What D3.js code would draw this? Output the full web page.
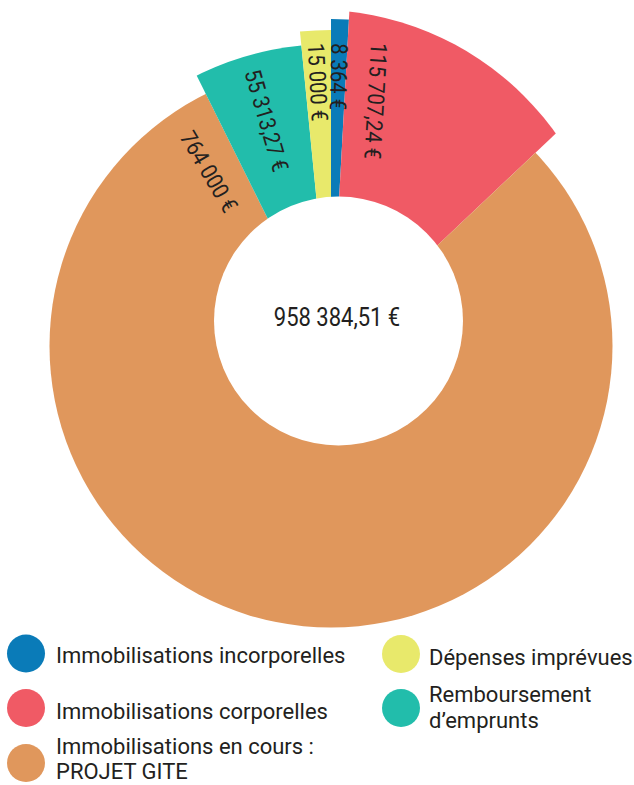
<!DOCTYPE html>
<html>
<head>
<meta charset="utf-8">
<script src="https://cdn.jsdelivr.net/npm/d3@7"></script>
<style>
  html, body { margin: 0; padding: 0; background: #fff; }
  text { font-family: Roboto, "Noto Sans", sans-serif; fill: #231f20; }
</style>
</head>
<body>
<div id="chart"></div>
<script>
// ---- data ----
const categories = [
  "Immobilisations incorporelles",
  "Immobilisations corporelles",
  "Immobilisations en cours : PROJET GITE",
  "Remboursement d’emprunts",
  "Dépenses imprévues"
];
const amounts = [8364, 115707.24, 764000, 55313.27, 15000];
const legendLines = [
  ["Immobilisations incorporelles"],
  ["Immobilisations corporelles"],
  ["Immobilisations en cours :", "PROJET GITE"],
  ["Remboursement", "d’emprunts"],
  ["Dépenses imprévues"]
];
const colors = ["#0a7bb8", "#f05a65", "#e0975c", "#22bdab", "#e8e96b"];

// ---- layout / style ----
const width = 634, height = 785;
const apex = { x: 331, y: 346 };           // common point of the wedges
const hole = { x: 338.5, y: 321, r: 124.5 };
const squeeze = 0.88;                      // narrow type for the numbers
// outer edge of each wedge: circle radius, plus its centre offset from apex
const outer = [
  { r: 327, dx: 0, dy: 0 },
  { r: 295, dx: -15.6, dy: -41.5 },
  { r: 281.5, dx: 0, dy: 0 },
  { r: 302, dx: 0, dy: 0 },
  { r: 316, dx: 0, dy: 0 }
];
// value label: start point (polar from apex, degrees clockwise from top) and direction
const labelPos = [
  { r: 303, a: 1.6, rot: 1.6 },
  { r: 306.8, a: 9.0, rot: 3.3 },
  { r: 257.7, a: -34.2, rot: -30.4 },
  { r: 287, a: -16.0, rot: -16.2 },
  { r: 303.4, a: -2.9, rot: -3 }
];
const legendPos = [
  { cx: 26, cy: 653.5, tx: 56, ty: [663] },
  { cx: 26, cy: 708, tx: 56, ty: [719] },
  { cx: 26, cy: 763, tx: 56, ty: [754, 779] },
  { cx: 401, cy: 708, tx: 429, ty: [702, 728] },
  { cx: 401, cy: 654, tx: 429, ty: [665] }
];

const fr = d3.formatLocale({ decimal: ",", thousands: " ", grouping: [3], currency: ["", " €"] });
const fmt = v => fr.format(",.2~f")(v) + " €";

const svg = d3.select("#chart").append("svg")
    .attr("width", width)
    .attr("height", height);

const pie = d3.pie().sort(null).value(d => d)(amounts);
const arc = d3.arc().innerRadius(0).outerRadius(420);
const rad = a => a * Math.PI / 180;

// clip circles for the outer edges
const defs = svg.append("defs");
defs.selectAll("clipPath")
    .data(outer)
    .join("clipPath")
      .attr("id", (d, i) => "edge" + i)
    .append("circle")
      .attr("cx", d => d.dx)
      .attr("cy", d => d.dy)
      .attr("r", d => d.r);

const g = svg.append("g")
    .attr("transform", `translate(${apex.x},${apex.y})`);

g.selectAll("path.slice")
    .data(pie)
    .join("path")
      .attr("class", "slice")
      .attr("d", arc)
      .attr("fill", (d, i) => colors[i])
      .attr("clip-path", (d, i) => `url(#edge${i})`);

// value labels, running inwards
g.selectAll("text.val")
    .data(pie)
    .join("text")
      .attr("class", "val")
      .attr("transform", (d, i) => {
          const p = labelPos[i];
          const x = p.r * Math.sin(rad(p.a)), y = -p.r * Math.cos(rad(p.a));
          return `translate(${x},${y}) rotate(${p.rot + 90}) scale(${squeeze},1)`;
      })
      .attr("dominant-baseline", "central")
      .style("font-size", "23px")
      .text(d => fmt(d.data));

// hole with the total
svg.append("circle")
    .attr("cx", hole.x)
    .attr("cy", hole.y)
    .attr("r", hole.r)
    .attr("fill", "#fff");

svg.append("text")
    .attr("transform", `translate(337,318) scale(${squeeze},1)`)
    .attr("text-anchor", "middle")
    .attr("dominant-baseline", "central")
    .style("font-size", "25px")
    .text(fmt(d3.sum(amounts)));

// legend
const leg = svg.append("g").selectAll("g")
    .data(categories)
    .join("g");

leg.append("circle")
    .attr("cx", (d, i) => legendPos[i].cx)
    .attr("cy", (d, i) => legendPos[i].cy)
    .attr("r", 19)
    .attr("fill", (d, i) => colors[i]);

leg.each(function(d, i) {
    const p = legendPos[i];
    d3.select(this).selectAll("text")
        .data(legendLines[i])
        .join("text")
          .attr("x", p.tx)
          .attr("y", (t, j) => p.ty[j])
          .style("font-size", "22px")
          .text(t => t);
});
</script>
</body>
</html>
